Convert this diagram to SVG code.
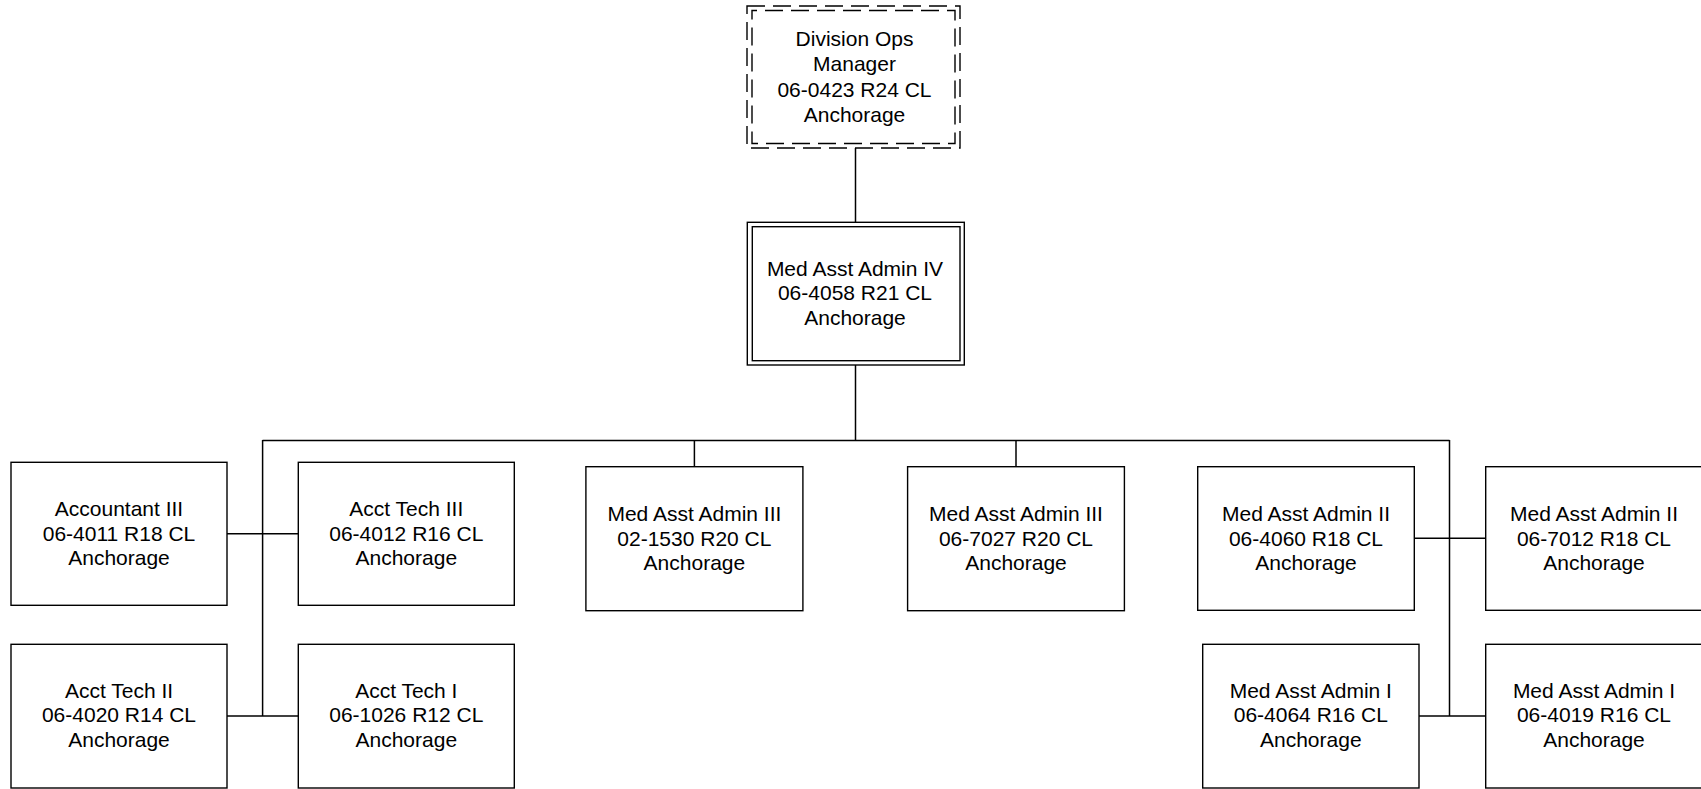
<svg xmlns="http://www.w3.org/2000/svg" width="1701" height="789" viewBox="0 0 1701 789">
<style>
.box{fill:#fff;stroke:#000;stroke-width:1.4}
.dash{fill:none;stroke:#000;stroke-width:1.4;stroke-dasharray:18 8}
.t{font-family:"Liberation Sans",Arial,sans-serif;font-size:21px;fill:#000;text-anchor:middle}
.c{fill:none;stroke:#000;stroke-width:1.5}
</style>
<rect width="1701" height="789" fill="#fff"/>
<g id="connectors">
<line class="c" x1="855.5" y1="148" x2="855.5" y2="222.5"/>
<line class="c" x1="855.5" y1="365" x2="855.5" y2="440.5" stroke-width="2.2"/>
<line class="c" x1="262.6" y1="440.5" x2="1449.5" y2="440.5"/>
<line class="c" x1="262.6" y1="440" x2="262.6" y2="716"/>
<line class="c" x1="227" y1="533.7" x2="298.3" y2="533.7"/>
<line class="c" x1="227" y1="716" x2="298.3" y2="716"/>
<line class="c" x1="694.4" y1="440" x2="694.4" y2="466.7"/>
<line class="c" x1="1016" y1="440" x2="1016" y2="466.7"/>
<line class="c" x1="1449.5" y1="440" x2="1449.5" y2="716"/>
<line class="c" x1="1414.3" y1="538.3" x2="1485.7" y2="538.3"/>
<line class="c" x1="1419" y1="716" x2="1485.7" y2="716"/>
</g>
<g id="n-division-ops-manager">
<rect x="747" y="6" width="213" height="142" fill="#fff"/>
<rect class="dash" x="747" y="6" width="213" height="142"/>
<rect class="dash" x="752" y="10.5" width="203" height="133" stroke-dashoffset="13"/>
<text class="t" x="854.5" y="46">Division Ops</text>
<text class="t" x="854.5" y="71.2">Manager</text>
<text class="t" x="854.5" y="96.5">06-0423 R24 CL</text>
<text class="t" x="854.5" y="121.7">Anchorage</text>
</g>
<g id="n-med-asst-admin-iv">
<rect class="box" x="747.3" y="222.3" width="217" height="142.7"/>
<rect class="box" x="752.3" y="226.7" width="207.7" height="134"/>
<text class="t" x="855" y="275.5">Med Asst Admin IV</text>
<text class="t" x="855" y="300.3">06-4058 R21 CL</text>
<text class="t" x="855" y="325.1">Anchorage</text>
</g>
<g id="n-accountant-iii">
<rect class="box" x="11" y="462.3" width="216" height="143"/>
<text class="t" x="119" y="515.8">Accountant III</text>
<text class="t" x="119" y="540.6">06-4011 R18 CL</text>
<text class="t" x="119" y="565.4">Anchorage</text>
</g>
<g id="n-acct-tech-iii">
<rect class="box" x="298.3" y="462.3" width="216" height="143"/>
<text class="t" x="406.3" y="515.8">Acct Tech III</text>
<text class="t" x="406.3" y="540.6">06-4012 R16 CL</text>
<text class="t" x="406.3" y="565.4">Anchorage</text>
</g>
<g id="n-acct-tech-ii">
<rect class="box" x="11" y="644.3" width="216" height="143.7"/>
<text class="t" x="119" y="697.6">Acct Tech II</text>
<text class="t" x="119" y="722.4">06-4020 R14 CL</text>
<text class="t" x="119" y="747.2">Anchorage</text>
</g>
<g id="n-acct-tech-i">
<rect class="box" x="298.3" y="644.3" width="216" height="143.7"/>
<text class="t" x="406.3" y="697.6">Acct Tech I</text>
<text class="t" x="406.3" y="722.4">06-1026 R12 CL</text>
<text class="t" x="406.3" y="747.2">Anchorage</text>
</g>
<g id="n-med-asst-admin-iii-1530">
<rect class="box" x="585.9" y="466.7" width="217" height="144"/>
<text class="t" x="694.4" y="520.8">Med Asst Admin III</text>
<text class="t" x="694.4" y="545.6">02-1530 R20 CL</text>
<text class="t" x="694.4" y="570.4">Anchorage</text>
</g>
<g id="n-med-asst-admin-iii-7027">
<rect class="box" x="907.6" y="466.7" width="216.8" height="144"/>
<text class="t" x="1016" y="520.8">Med Asst Admin III</text>
<text class="t" x="1016" y="545.6">06-7027 R20 CL</text>
<text class="t" x="1016" y="570.4">Anchorage</text>
</g>
<g id="n-med-asst-admin-ii-4060">
<rect class="box" x="1197.7" y="466.7" width="216.6" height="143.6"/>
<text class="t" x="1306" y="520.8">Med Asst Admin II</text>
<text class="t" x="1306" y="545.6">06-4060 R18 CL</text>
<text class="t" x="1306" y="570.4">Anchorage</text>
</g>
<g id="n-med-asst-admin-ii-7012">
<rect class="box" x="1485.7" y="466.7" width="217" height="143.6"/>
<text class="t" x="1594" y="520.8">Med Asst Admin II</text>
<text class="t" x="1594" y="545.6">06-7012 R18 CL</text>
<text class="t" x="1594" y="570.4">Anchorage</text>
</g>
<g id="n-med-asst-admin-i-4064">
<rect class="box" x="1202.7" y="644.3" width="216.3" height="143.7"/>
<text class="t" x="1310.8" y="697.6">Med Asst Admin I</text>
<text class="t" x="1310.8" y="722.4">06-4064 R16 CL</text>
<text class="t" x="1310.8" y="747.2">Anchorage</text>
</g>
<g id="n-med-asst-admin-i-4019">
<rect class="box" x="1485.7" y="644.3" width="217" height="143.7"/>
<text class="t" x="1594" y="697.6">Med Asst Admin I</text>
<text class="t" x="1594" y="722.4">06-4019 R16 CL</text>
<text class="t" x="1594" y="747.2">Anchorage</text>
</g>
</svg>
